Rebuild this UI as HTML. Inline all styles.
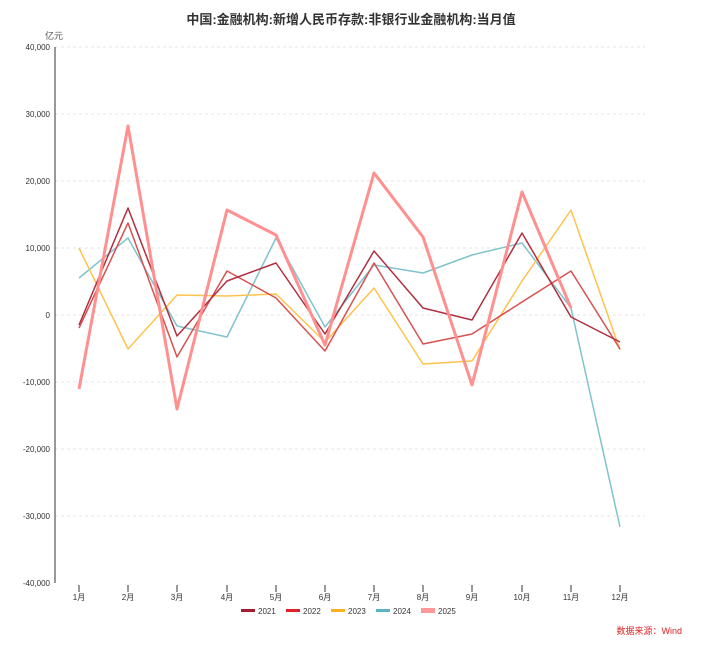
<!DOCTYPE html>
<html><head><meta charset="utf-8"><style>
body{margin:0;background:#fff;}
svg text{font-family:"Liberation Sans","Noto Sans CJK SC",sans-serif;}
</style></head><body>
<svg width="702" height="647" xmlns="http://www.w3.org/2000/svg">
<text x="351" y="24" text-anchor="middle" font-size="13" font-weight="bold" fill="#333">中国:金融机构:新增人民币存款:非银行业金融机构:当月值</text>
<text x="54" y="39" text-anchor="middle" font-size="9" fill="#555">亿元</text>
<g stroke="#e4e4e4" stroke-dasharray="3,3" stroke-width="1">
<line x1="55" x2="645" y1="47" y2="47"/><line x1="55" x2="645" y1="114" y2="114"/><line x1="55" x2="645" y1="181" y2="181"/><line x1="55" x2="645" y1="248" y2="248"/><line x1="55" x2="645" y1="315" y2="315"/><line x1="55" x2="645" y1="382" y2="382"/><line x1="55" x2="645" y1="449" y2="449"/><line x1="55" x2="645" y1="516" y2="516"/>
</g>
<line x1="55" y1="47" x2="55" y2="583" stroke="#333"/>
<g font-size="8" fill="#333" text-anchor="end">
<text x="50" y="50">40,000</text><text x="50" y="117">30,000</text><text x="50" y="184">20,000</text><text x="50" y="251">10,000</text><text x="50" y="318">0</text><text x="50" y="385">-10,000</text><text x="50" y="452">-20,000</text><text x="50" y="519">-30,000</text><text x="50" y="586">-40,000</text>
</g>
<g stroke="#333" font-size="8" fill="#333" text-anchor="middle">
<line x1="79" x2="79" y1="585" y2="592"/><line x1="128" x2="128" y1="585" y2="592"/><line x1="177" x2="177" y1="585" y2="592"/><line x1="227" x2="227" y1="585" y2="592"/><line x1="276" x2="276" y1="585" y2="592"/><line x1="325" x2="325" y1="585" y2="592"/><line x1="374" x2="374" y1="585" y2="592"/><line x1="423" x2="423" y1="585" y2="592"/><line x1="472" x2="472" y1="585" y2="592"/><line x1="522" x2="522" y1="585" y2="592"/><line x1="571" x2="571" y1="585" y2="592"/><line x1="620" x2="620" y1="585" y2="592"/>
</g>
<g font-size="8" fill="#333" text-anchor="middle">
<text x="79" y="600">1月</text><text x="128" y="600">2月</text><text x="177" y="600">3月</text><text x="227" y="600">4月</text><text x="276" y="600">5月</text><text x="325" y="600">6月</text><text x="374" y="600">7月</text><text x="423" y="600">8月</text><text x="472" y="600">9月</text><text x="522" y="600">10月</text><text x="571" y="600">11月</text><text x="620" y="600">12月</text>
</g>
<g fill="none" stroke-linejoin="round">
<polyline stroke="#7fc4cc" stroke-width="1.5" points="79,278 128,238 177,326 227,337 276,238 325,327 374,265 423,273 472,255 522,243 571,308 620,527"/>
<polyline stroke="#ffc34d" stroke-width="1.5" points="79,248 128,349 177,295 227,296 276,294 325,342 374,288 423,364 472,361 522,281 571,210 620,350"/>
<polyline stroke="#d95050" stroke-width="1.5" points="79,328 128,223 177,357 227,271 276,298 325,351 374,263 423,344 472,334 522,302 571,271 620,349"/>
<polyline stroke="#b03040" stroke-width="1.5" points="79,325 128,208 177,336 227,281 276,263 325,334 374,251 423,308 472,320 522,233 571,317 620,342"/>
<polyline stroke="#ff9090" stroke-width="3" points="79,389 128,126 177,409 227,210 276,235 325,345 374,173 423,237 472,385 522,192 571,308"/>
</g>
<g font-size="8" fill="#333">
<rect x="241" y="609" width="14" height="3" fill="#a31d2b"/><text x="258" y="614">2021</text>
<rect x="286" y="609" width="14" height="3" fill="#e0202a"/><text x="303" y="614">2022</text>
<rect x="331" y="609" width="14" height="3" fill="#ffb020"/><text x="348" y="614">2023</text>
<rect x="376" y="609" width="14" height="3" fill="#5ab4c0"/><text x="393" y="614">2024</text>
<rect x="421" y="608" width="14" height="5" fill="#ff9999"/><text x="438" y="614">2025</text>
</g>
<text x="682" y="634" text-anchor="end" font-size="9" fill="#e02020">数据来源：Wind</text>
</svg>
</body></html>
